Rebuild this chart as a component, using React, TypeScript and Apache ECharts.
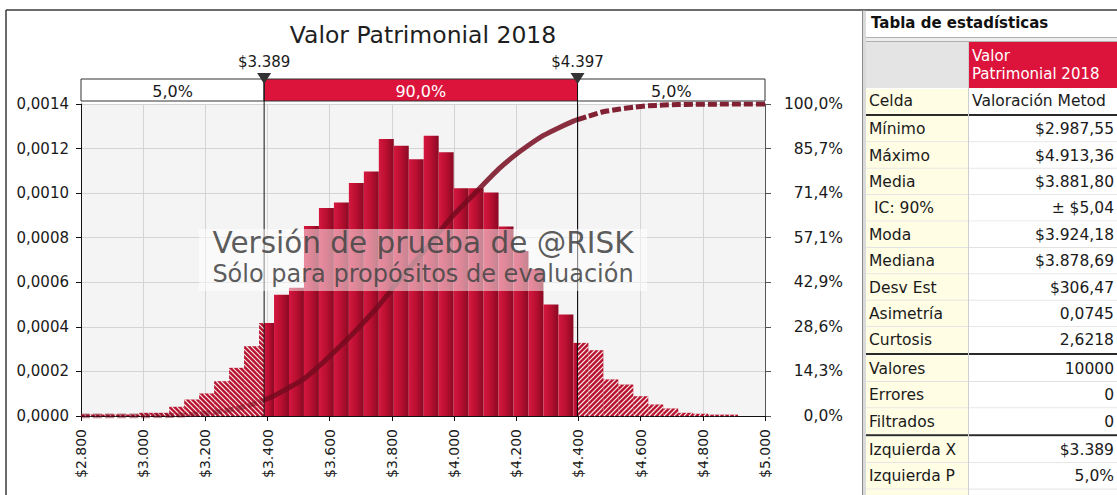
import React, { useEffect, useRef } from 'react';
import * as echarts from 'echarts';

// ---------- data ----------
const chartTitle = 'Valor Patrimonial 2018';
const xMin = 2800;
const xMax = 5000;
const xStep = 200;
const yMax = 0.0014;
const yStep = 0.0002;
const binStart = 2987.55;
const binWidth = 48.145;
// density per bin (40 bins)
const densities = [
  0.0000143, 0.0000143, 0.0000412, 0.0000739, 0.000101, 0.000156, 0.000216, 0.000313, 0.000417,
  0.000544, 0.000575, 0.000853, 0.000933, 0.000958, 0.001045, 0.001097, 0.001243, 0.001213, 0.001152,
  0.001258, 0.001184, 0.001022, 0.001022, 0.001003, 0.00085, 0.00074, 0.00066, 0.0005, 0.000455,
  0.000328, 0.000295, 0.000164, 0.000141, 0.0000887, 0.0000515, 0.0000336, 0.0000143, 0.00001, 0.000006, 0.000006,
];
const leadStripValue = 0.000007;
const leftX = 3389;
const rightX = 4397;
const leftXLabel = '$3.389';
const rightXLabel = '$4.397';
const bandPercents = ['5,0%', '90,0%', '5,0%'];
const rightAxisDivisions = 7; // 0,0% .. 100,0% in sevenths

const watermark1 = 'Versión de prueba de @RISK';
const watermark2 = 'Sólo para propósitos de evaluación';

const tableTitle = 'Tabla de estadísticas';
const headerLines = ['Valor', 'Patrimonial 2018'];
const cellLabel = 'Celda';
const cellValue = 'Valoración Metodología';
const statGroup1Labels = ['Mínimo', 'Máximo', 'Media', 'IC: 90%', 'Moda', 'Mediana', 'Desv Est', 'Asimetría', 'Curtosis'];
const statGroup1Values = ['$2.987,55', '$4.913,36', '$3.881,80', '± $5,04', '$3.924,18', '$3.878,69', '$306,47', '0,0745', '2,6218'];
const statGroup2Labels = ['Valores', 'Errores', 'Filtrados'];
const statGroup2Values = ['10000', '0', '0'];
const statGroup3Labels = ['Izquierda X', 'Izquierda P'];
const statGroup3Values = ['$3.389', '5,0%'];

const FONT = 'DejaVu Sans';

export default function App() {
  const ref = useRef<HTMLDivElement>(null);

  useEffect(() => {
    if (!ref.current) return;
    const chart = echarts.init(ref.current, null, { renderer: 'svg' });

    // bins
    const edges: number[] = [];
    for (let i = 0; i <= densities.length; i++) edges.push(binStart + i * binWidth);
    const cum: number[] = [0];
    densities.forEach((d, i) => cum.push(cum[i] + d * binWidth));
    const total = cum[cum.length - 1];
    const cdfAt = (x: number) => {
      if (x <= edges[0]) return 0;
      if (x >= edges[edges.length - 1]) return 1;
      for (let i = 0; i < densities.length; i++) {
        if (x >= edges[i] && x < edges[i + 1]) return (cum[i] + densities[i] * (x - edges[i])) / total;
      }
      return 1;
    };
    const kindOf = (s: number, e: number) => {
      const m = (s + e) / 2;
      return m < leftX ? 1 : m > rightX ? 2 : 0;
    };
    const pieces: number[][] = [[xMin, binStart, leadStripValue, 1]];
    densities.forEach((d, i) => {
      const a = edges[i];
      const b = edges[i + 1];
      const cuts = [a, ...[leftX, rightX].filter((c) => c > a && c < b), b];
      for (let j = 0; j < cuts.length - 1; j++) {
        pieces.push([cuts[j], cuts[j + 1], d, kindOf(cuts[j], cuts[j + 1])]);
      }
    });

    const R = rightAxisDivisions;
    const cdfPts = edges.map((e, i) => [e, cum[i] / total]);
    const sc = (p: number[]) => [p[0], p[1] * R];
    const leftPts = [[xMin, 0], ...cdfPts.filter((p) => p[0] < leftX), [leftX, cdfAt(leftX)]].map(sc);
    const midPts = [[leftX, cdfAt(leftX)], ...cdfPts.filter((p) => p[0] > leftX && p[0] < rightX), [rightX, cdfAt(rightX)]].map(sc);
    const rightPts = [[rightX, cdfAt(rightX)], ...cdfPts.filter((p) => p[0] > rightX), [xMax, 1]].map(sc);

    const solidFill = {
      type: 'linear', x: 0, y: 0, x2: 1, y2: 0,
      colorStops: [
        { offset: 0, color: '#d5173e' },
        { offset: 0.5, color: '#b90f31' },
        { offset: 1, color: '#880a23' },
      ],
    };

    const renderItem = (params: any, api: any) => {
      const x0 = api.value(0);
      const x1 = api.value(1);
      const v = api.value(2);
      const kind = api.value(3);
      const p0 = api.coord([x0, v]);
      const p1 = api.coord([x1, 0]);
      const rx0 = p0[0], ry0 = p0[1], rx1 = p1[0], ry1 = p1[1];
      const shape = { x: rx0, y: ry0, width: rx1 - rx0, height: ry1 - ry0 };
      if (kind === 0) {
        return { type: 'rect', shape, style: { fill: solidFill } };
      }
      const children: any[] = [{ type: 'rect', shape, style: { fill: '#b8112e' } }];
      const step = 5;
      if (kind === 1) {
        const bStart = Math.ceil((ry0 - rx1) / step) * step;
        for (let b = bStart; b <= ry1 - rx0; b += step) {
          const xs = Math.max(rx0, ry0 - b);
          const xe = Math.min(rx1, ry1 - b);
          if (xe > xs) children.push({ type: 'line', shape: { x1: xs, y1: xs + b, x2: xe, y2: xe + b }, style: { stroke: 'rgba(255,255,255,0.9)', lineWidth: 1.2 } });
        }
      } else {
        const bStart = Math.ceil((rx0 + ry0) / step) * step;
        for (let b = bStart; b <= rx1 + ry1; b += step) {
          const xs = Math.max(rx0, b - ry1);
          const xe = Math.min(rx1, b - ry0);
          if (xe > xs) children.push({ type: 'line', shape: { x1: xs, y1: b - xs, x2: xe, y2: b - xe }, style: { stroke: 'rgba(255,255,255,0.9)', lineWidth: 1.2 } });
        }
      }
      return { type: 'group', children };
    };

    const labelStyle = { fontFamily: FONT, color: '#1a1a1a' };
    const curveColor = '#740a1e';

    chart.setOption({
      animation: false,
      grid: { left: 81, right: 352, top: 104, bottom: 79, show: true, backgroundColor: '#f4f4f4', borderWidth: 0 },
      xAxis: {
        type: 'value', min: xMin, max: xMax, interval: xStep,
        axisLine: { show: true, onZero: false, lineStyle: { color: '#111', width: 1 } },
        axisTick: { show: true, length: 5, lineStyle: { color: '#111' } },
        axisLabel: {
          ...labelStyle, fontSize: 14, rotate: 90, margin: 13,
          formatter: (v: number) => '$' + Math.floor(v / 1000) + '.' + String(v % 1000).padStart(3, '0'),
        },
        splitLine: { show: true, lineStyle: { color: '#d4d4d4', width: 1 } },
      },
      yAxis: [
        {
          type: 'value', min: 0, max: yMax, interval: yStep, position: 'left',
          axisLine: { show: true, lineStyle: { color: '#111' } },
          axisTick: { show: true, length: 5, lineStyle: { color: '#111' } },
          axisLabel: { ...labelStyle, fontSize: 15, margin: 12, formatter: (v: number) => v.toFixed(4).replace('.', ',') },
          splitLine: { show: true, lineStyle: { color: '#d4d4d4', width: 1 } },
        },
        {
          type: 'value', min: 0, max: R, interval: 1, position: 'right',
          axisLine: { show: true, lineStyle: { color: '#555' } },
          axisTick: { show: true, length: 6, lineStyle: { color: '#555' } },
          axisLabel: { ...labelStyle, fontSize: 15.5, margin: 78, align: 'right', formatter: (v: number) => ((v / R) * 100).toFixed(1).replace('.', ',') + '%' },
          splitLine: { show: false },
        },
      ],
      series: [
        {
          type: 'custom', renderItem, data: pieces, xAxisIndex: 0, yAxisIndex: 0,
          encode: { x: [0, 1], y: 2 }, z: 2,
        },
        {
          type: 'line', data: leftPts, yAxisIndex: 1, showSymbol: false, smooth: 0.2, z: 3,
          lineStyle: { color: curveColor, width: 5, opacity: 0.45, type: [9, 3] },
        },
        {
          type: 'line', data: midPts, yAxisIndex: 1, showSymbol: false, smooth: 0.2, z: 3,
          lineStyle: { color: curveColor, width: 5, opacity: 0.85 },
        },
        {
          type: 'line', data: rightPts, yAxisIndex: 1, showSymbol: false, smooth: 0.2, z: 3,
          lineStyle: { color: curveColor, width: 5, opacity: 0.9, type: [9, 3] },
        },
      ],
    });

    const px = (x: number, y: number) => chart.convertToPixel({ gridIndex: 0 }, [x, y]) as number[];
    const [gx0, gy0] = px(xMin, 0);
    const gx1 = px(xMax, yMax)[0];
    const lx = px(leftX, 0)[0];
    const rxp = px(rightX, 0)[0];
    const cx = (gx0 + gx1) / 2;

    const g: any[] = [];
    const txt = (text: string, x: number, y: number, o: any = {}) => ({
      type: 'text', x, y, z: o.z ?? 20,
      style: {
        text, fill: o.fill ?? '#1a1a1a', fontSize: o.size ?? 15, fontFamily: FONT,
        fontWeight: o.weight ?? 'normal', textAlign: o.align ?? 'left', textVerticalAlign: 'middle',
        ...(o.width ? { width: o.width, overflow: 'truncate', ellipsis: '' } : {}),
      },
    });

    // outer frame
    g.push({ type: 'line', shape: { x1: 6, y1: 10, x2: 1117, y2: 10 }, style: { stroke: '#3a3a3a', lineWidth: 1.5 } });
    g.push({ type: 'line', shape: { x1: 6, y1: 10, x2: 6, y2: 495 }, style: { stroke: '#3a3a3a', lineWidth: 1.5 } });

    // title
    g.push(txt(chartTitle, cx, 35, { size: 23.5, align: 'center', fill: '#1e1e1e' }));

    // probability band
    const bandTop = 79, bandH = 22;
    g.push({ type: 'rect', shape: { x: gx0, y: bandTop, width: lx - gx0, height: bandH }, style: { fill: '#fff', stroke: '#333', lineWidth: 1 }, z: 10 });
    g.push({ type: 'rect', shape: { x: lx, y: bandTop, width: rxp - lx, height: bandH }, style: { fill: '#dc143c', stroke: '#333', lineWidth: 1 }, z: 10 });
    g.push({ type: 'rect', shape: { x: rxp, y: bandTop, width: gx1 - rxp, height: bandH }, style: { fill: '#fff', stroke: '#333', lineWidth: 1 }, z: 10 });
    g.push(txt(bandPercents[0], (gx0 + lx) / 2, bandTop + bandH / 2 + 1, { size: 16, align: 'center', z: 11 }));
    g.push(txt(bandPercents[1], (lx + rxp) / 2, bandTop + bandH / 2 + 1, { size: 16, align: 'center', fill: '#fff', z: 11 }));
    g.push(txt(bandPercents[2], (rxp + gx1) / 2, bandTop + bandH / 2 + 1, { size: 16, align: 'center', z: 11 }));

    // markers
    [[lx, leftXLabel], [rxp, rightXLabel]].forEach(([xp, lab]: any) => {
      g.push({ type: 'line', shape: { x1: xp, y1: bandTop, x2: xp, y2: gy0 }, style: { stroke: '#111', lineWidth: 1 }, z: 12 });
      g.push({ type: 'polygon', shape: { points: [[xp - 7, 73], [xp + 7, 73], [xp, 84]] }, style: { fill: '#333' }, z: 13 });
      g.push(txt(lab, xp, 62, { size: 15, align: 'center' }));
    });

    // watermark
    g.push({ type: 'rect', shape: { x: cx - 224, y: 229, width: 448, height: 62 }, style: { fill: 'rgba(255,255,255,0.5)' }, z: 30 });
    g.push(txt(watermark1, cx, 243, { size: 29.5, align: 'center', fill: 'rgba(70,70,70,0.88)', z: 31 }));
    g.push(txt(watermark2, cx, 274, { size: 24, align: 'center', fill: 'rgba(70,70,70,0.88)', z: 31 }));

    // statistics table
    const tL = 866, labW = 102, vX = tL + labW + 1, tR = 1117, valRight = 1114;
    g.push({ type: 'rect', shape: { x: 862, y: 10.8, width: 4, height: 490 }, style: { fill: '#dadada' } });
    g.push({ type: 'line', shape: { x1: 862.5, y1: 10.8, x2: 862.5, y2: 495 }, style: { stroke: '#8a8a8a', lineWidth: 1 } });
    g.push({ type: 'rect', shape: { x: tL, y: 11, width: tR - tL, height: 27 }, style: { fill: '#fff' } });
    g.push(txt(tableTitle, 871, 23, { size: 15, weight: 'bold', fill: '#111' }));
    g.push({ type: 'line', shape: { x1: tL, y1: 37.5, x2: tR, y2: 37.5 }, style: { stroke: '#b0b0b0', lineWidth: 1 } });
    g.push({ type: 'rect', shape: { x: tL, y: 38, width: tR - tL, height: 4 }, style: { fill: '#ededed' } });
    g.push({ type: 'line', shape: { x1: tL, y1: 41.5, x2: tR, y2: 41.5 }, style: { stroke: '#b0b0b0', lineWidth: 1 } });
    g.push({ type: 'rect', shape: { x: tL, y: 42, width: labW, height: 46 }, style: { fill: '#e4e4e4' } });
    g.push({ type: 'rect', shape: { x: vX, y: 42, width: tR - vX, height: 46 }, style: { fill: '#dc143c' } });
    g.push(txt(headerLines[0], vX + 3, 56, { size: 15, fill: '#fff' }));
    g.push(txt(headerLines[1], vX + 3, 74, { size: 15, fill: '#fff' }));
    // Celda row
    g.push({ type: 'rect', shape: { x: tL, y: 89, width: labW, height: 25 }, style: { fill: '#fffde4' } });
    g.push({ type: 'rect', shape: { x: vX, y: 89, width: tR - vX, height: 25 }, style: { fill: '#fff' } });
    g.push(txt(cellLabel, 869, 101, { size: 15.5 }));
    g.push(txt(cellValue, vX + 3, 101, { size: 15.5, width: tR - vX - 6 }));
    g.push({ type: 'line', shape: { x1: tL, y1: 115, x2: tR, y2: 115 }, style: { stroke: '#2a2a2a', lineWidth: 2 } });

    const rowH = 26.4;
    let y = 116;
    const groups = [
      [statGroup1Labels, statGroup1Values],
      [statGroup2Labels, statGroup2Values],
      [statGroup3Labels, statGroup3Values],
    ];
    groups.forEach(([labs, vals], gi) => {
      labs.forEach((lab, ri) => {
        g.push({ type: 'rect', shape: { x: tL, y, width: labW, height: rowH }, style: { fill: '#fffde4' } });
        g.push({ type: 'rect', shape: { x: vX, y, width: tR - vX, height: rowH }, style: { fill: '#fff' } });
        const indent = lab.startsWith('IC') ? 5 : 0;
        g.push(txt(lab, 869 + indent, y + rowH / 2, { size: 15.5 }));
        g.push(txt(vals[ri], valRight, y + rowH / 2, { size: 15.5, align: 'right' }));
        if (ri < labs.length - 1 || gi === groups.length - 1) {
          g.push({ type: 'line', shape: { x1: tL, y1: y + rowH - 0.5, x2: tR, y2: y + rowH - 0.5 }, style: { stroke: '#e2e2e2', lineWidth: 1 } });
        }
        y += rowH;
      });
      if (gi < groups.length - 1) {
        g.push({ type: 'line', shape: { x1: tL, y1: y + 0.5, x2: tR, y2: y + 0.5 }, style: { stroke: '#2a2a2a', lineWidth: 2 } });
        y += 2;
      }
    });
    g.push({ type: 'rect', shape: { x: tL, y, width: labW, height: 495 - y }, style: { fill: '#fffde4' } });
    g.push({ type: 'line', shape: { x1: vX - 0.5, y1: 42, x2: vX - 0.5, y2: 495 }, style: { stroke: '#cfcfcf', lineWidth: 1 } });

    chart.setOption({ graphic: { elements: g } });

    return () => chart.dispose();
  }, []);

  return (
    <div
      ref={ref}
      style={{ position: 'fixed', left: 0, top: 0, width: 1117, height: 495, overflow: 'hidden', background: '#fff' }}
    />
  );
}
